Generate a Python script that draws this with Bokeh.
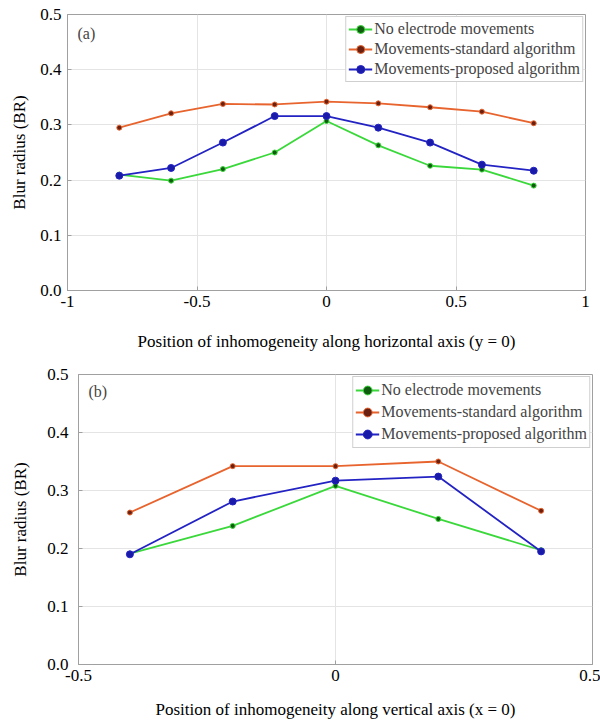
from bokeh.plotting import figure
from bokeh.layouts import column
from bokeh.models import FixedTicker, Label, Legend, LegendItem
from bokeh.embed import file_html
from bokeh.resources import INLINE

# ---- data panel (a): horizontal axis (y = 0)
x_a = [-0.8, -0.6, -0.4, -0.2, 0.0, 0.2, 0.4, 0.6, 0.8]
no_move_a = [0.210, 0.199, 0.220, 0.250, 0.307, 0.263, 0.226, 0.219, 0.190]
standard_a = [0.295, 0.321, 0.338, 0.337, 0.342, 0.339, 0.332, 0.324, 0.303]
proposed_a = [0.208, 0.222, 0.268, 0.316, 0.316, 0.295, 0.268, 0.228, 0.217]

# ---- data panel (b): vertical axis (x = 0)
x_b = [-0.4, -0.2, 0.0, 0.2, 0.4]
no_move_b = [0.191, 0.239, 0.308, 0.251, 0.197]
standard_b = [0.262, 0.342, 0.342, 0.350, 0.265]
proposed_b = [0.190, 0.281, 0.317, 0.324, 0.195]

series_names = ["No electrode movements", "Movements-standard algorithm", "Movements-proposed algorithm"]
y_ticks = [0.0, 0.1, 0.2, 0.3, 0.4, 0.5]
y_tick_labels = ["0.0", "0.1", "0.2", "0.3", "0.4", "0.5"]
x_ticks_a = [-1, -0.5, 0, 0.5, 1]
x_tick_labels_a = ["-1", "-0.5", "0", "0.5", "1"]
x_ticks_b = [-0.5, 0, 0.5]
x_tick_labels_b = ["-0.5", "0", "0.5"]

FONT = "'Liberation Serif', 'Times New Roman', 'DejaVu Serif', serif"
line_colors = ["#3ad83a", "#e8642e", "#2323c4"]
dot_colors = ["#0f5a0f", "#6a2010", "#1a1aa8"]
dot_sizes = [5, 5, 7]


def make_panel(xs, ys_list, xr, xticks, xlabels, xtitle, tag, h, borders, ylab_standoffs, xlab_standoff, row_h):
    p = figure(width=600, height=h, x_range=xr, y_range=(0, 0.5),
               output_backend="svg", toolbar_location=None,
               min_border_left=borders[0], min_border_right=borders[1],
               min_border_top=borders[2], min_border_bottom=borders[3])
    p.frame_align = False
    p.background_fill_color = "white"
    p.border_fill_color = "white"
    p.outline_line_color = "#a0a0a0"
    p.outline_line_width = 1
    for ax in (p.xaxis[0], p.yaxis[0]):
        ax.axis_line_color = "#a0a0a0"
        ax.major_tick_in = 4
        ax.major_tick_out = 0
        ax.minor_tick_line_color = None
        ax.major_tick_line_color = "#a0a0a0"
        ax.major_label_text_font = FONT
        ax.major_label_text_font_size = "17px"
        ax.major_label_text_color = "black"
        ax.axis_label_text_font = FONT
        ax.axis_label_text_font_size = "17px"
        ax.axis_label_text_font_style = "normal"
        ax.axis_label_text_color = "black"
    p.xaxis[0].ticker = FixedTicker(ticks=xticks)
    p.xaxis[0].major_label_overrides = {t: l for t, l in zip(xticks, xlabels)}
    p.yaxis[0].ticker = FixedTicker(ticks=y_ticks)
    p.yaxis[0].major_label_overrides = {t: l for t, l in zip(y_ticks, y_tick_labels)}
    p.xaxis[0].axis_label = xtitle
    p.yaxis[0].axis_label = "Blur radius (BR)"
    p.xaxis[0].axis_label_standoff = xlab_standoff
    p.yaxis[0].major_label_standoff = ylab_standoffs[0]
    p.yaxis[0].axis_label_standoff = ylab_standoffs[1]
    p.xgrid.grid_line_color = "#e4e4e4"
    p.ygrid.grid_line_color = "#e4e4e4"

    items = []
    for ys, name, lc, dc, ds in zip(ys_list, series_names, line_colors, dot_colors, dot_sizes):
        r1 = p.line(xs, ys, line_color=lc, line_width=1.8)
        r2 = p.scatter(xs, ys, size=ds, fill_color=dc, line_color=lc, line_width=1)
        items.append(LegendItem(label=name, renderers=[r1, r2]))
    leg = Legend(items=items, location="top_right")
    leg.label_text_font = FONT
    leg.label_text_font_size = "16px"
    leg.label_height = row_h
    leg.glyph_height = row_h
    leg.glyph_width = 24
    leg.spacing = 0
    leg.padding = 2
    leg.margin = 2
    leg.label_standoff = 2
    leg.border_line_color = "#a0a0a0"
    leg.background_fill_alpha = 1
    p.add_layout(leg)
    p.add_layout(Label(x=10, y=h - borders[2] - borders[3] - 27, x_units="screen", y_units="screen",
                       text=tag, text_font=FONT, text_font_size="16px"))
    return p


p1 = make_panel(x_a, [no_move_a, standard_a, proposed_a], (-1, 1), x_ticks_a, x_tick_labels_a,
                "Position of inhomogeneity along horizontal axis (y = 0)", "(a)", 355, (67, 15, 14, 65),
                (6, 8), 22, 20)
p2 = make_panel(x_b, [no_move_b, standard_b, proposed_b], (-0.5, 0.5), x_ticks_b, x_tick_labels_b,
                "Position of inhomogeneity along vertical axis (x = 0)", "(b)", 366, (78, 8, 19, 55),
                (10, 14), 16, 22)

layout = column(p1, p2, spacing=0)
open("out.html", "w").write(file_html(layout, INLINE))
